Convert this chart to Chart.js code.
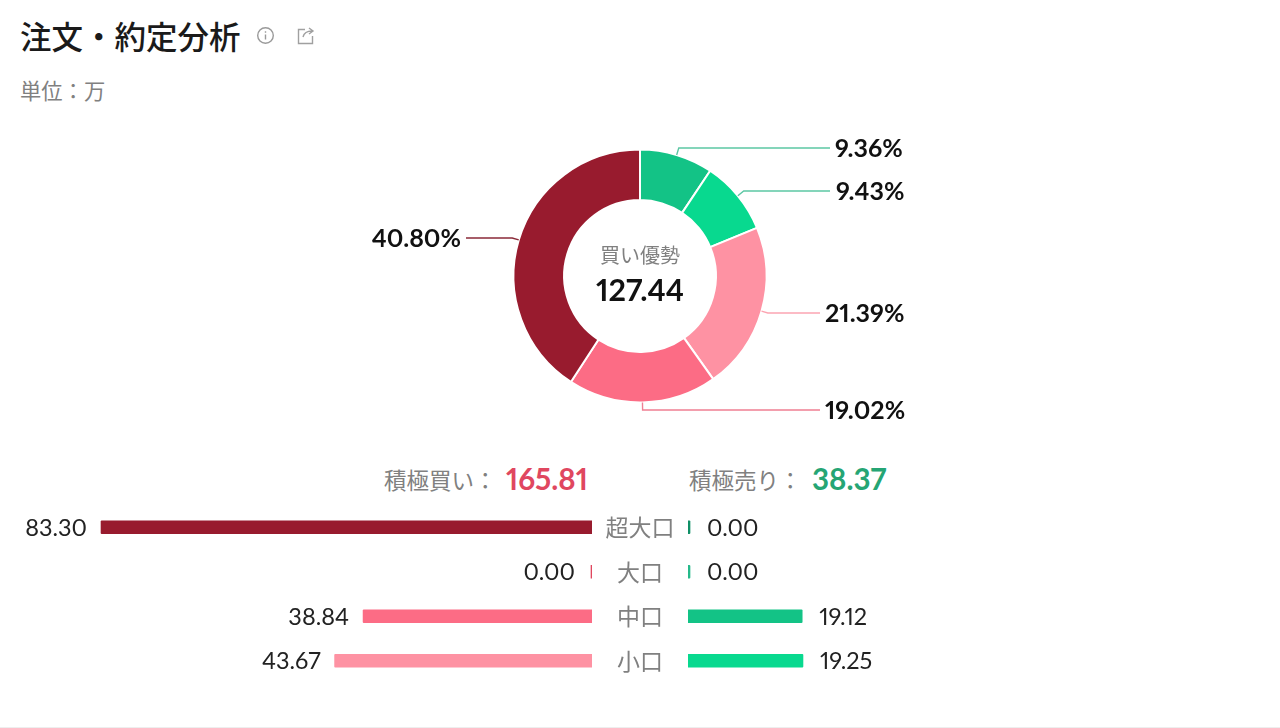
<!DOCTYPE html>
<html lang="ja"><head><meta charset="utf-8">
<script src="https://cdn.jsdelivr.net/npm/chart.js@4/dist/chart.umd.min.js"></script>
<style>
html,body{margin:0;padding:0;background:#fff;width:1280px;height:728px;overflow:hidden}
body{font-family:Lato,"Noto Sans CJK JP",sans-serif;position:relative}
.t{position:absolute;white-space:nowrap;line-height:1}
.n{position:absolute;white-space:nowrap;line-height:34px;height:34px;font-variant-numeric:proportional-nums;margin-top:-17px}
canvas{position:absolute}
.box{position:absolute}
#rule{position:absolute;left:0;right:0;top:727px;height:1px;background:#eeeeee}
</style></head><body>
<div class="t" id="title" style="left:20px;top:10px;line-height:50px;font-family:'Noto Sans CJK JP';font-weight:500;font-size:31.5px;color:#1a1a1a">注文・約定分析</div>
<svg class="box" style="left:256px;top:26px" width="19" height="19" viewBox="0 0 19 19" fill="none" stroke="#9a9a9a" stroke-width="1.4"><circle cx="9.5" cy="9.5" r="7.8"/><path d="M9.5 8.5v5M9.5 5.2v1.6"/></svg>
<svg class="box" style="left:296px;top:26px" width="20" height="19" viewBox="0 0 20 19" fill="none" stroke="#a0a0a0" stroke-width="1.4"><path d="M9 3.5H2.5v14h14V10"/><path d="M7 11c1-4 4-6 9-6M13 2l4 3-4 3"/></svg>
<div class="t" id="unit" style="left:20px;top:73px;line-height:34px;font-family:'Noto Sans CJK JP';font-size:21.3px;color:#808080">単位：万</div>

<div class="box" id="donutBox" style="left:340px;top:130px;width:600px;height:292px"><canvas id="donut"></canvas></div>

<div class="t" style="left:384px;top:462px;line-height:34px;font-family:'Noto Sans CJK JP';font-size:22.5px;color:#808080">積極買い：</div>
<div class="t" id="buyTotal" style="left:506px;top:462px;line-height:34px;font-family:Lato;font-weight:700;font-size:29.5px;font-variant-numeric:proportional-nums;color:#e0475f"></div>
<div class="t" style="left:689px;top:462px;line-height:34px;font-family:'Noto Sans CJK JP';font-size:22.5px;color:#808080">積極売り：</div>
<div class="t" id="sellTotal" style="left:812px;top:462px;line-height:34px;font-family:Lato;font-weight:700;font-size:29.5px;font-variant-numeric:proportional-nums;color:#25a574"></div>

<div class="box" id="buyBox" style="left:0;top:505px;width:592px;height:178px"><canvas id="buyBars"></canvas></div>
<div class="box" id="sellBox" style="left:592px;top:505px;width:400px;height:178px"><canvas id="sellBars"></canvas></div>
<div id="rule"></div>
<script>
const centerTitle = "買い優勢";
const centerValue = 127.44;
const totalBuy = 165.81;
const totalSell = 38.37;
const sharePercents = [9.36, 9.43, 21.39, 19.02, 40.80];
const shareColors = ["#13c386", "#08d98f", "#fe92a3", "#fc6c85", "#981b2e"];
const leaderColors = ["#5cc7a4", "#5cc7a4", "#fca5b2", "#f07f93", "#8a2a38"];
const categories = ["超大口", "大口", "中口", "小口"];
const buyValues = [83.30, 0.00, 38.84, 43.67];
const sellValues = [0.00, 0.00, 19.12, 19.25];
const buyColors = ["#981b2e", "#e0475f", "#fc6c85", "#fe92a3"];
const sellColors = ["#0f8f66", "#25b98a", "#13c386", "#08d98f"];

document.getElementById('buyTotal').textContent = totalBuy.toFixed(2);
document.getElementById('sellTotal').textContent = totalSell.toFixed(2);

Chart.defaults.animation = false;
Chart.defaults.responsive = true;
Chart.defaults.maintainAspectRatio = false;
Chart.defaults.devicePixelRatio = 1;

function label(box, key, text, x, y, align, css){
  let el = document.getElementById(key);
  if(!el){ el = document.createElement('div'); el.id = key; el.className = 'n'; box.appendChild(el); }
  el.textContent = text;
  el.style.cssText = css;
  el.style.top = y + 'px';
  if(align === 'right'){ el.style.right = (box.clientWidth - x) + 'px'; }
  else if(align === 'center'){ el.style.left = x + 'px'; el.style.transform = 'translateX(-50%)'; }
  else { el.style.left = x + 'px'; }
}

const leaderLayout = [
  {elbowY:-128, endX:190, textX:195, align:'left'},
  {elbowY:-85,  endX:190, textX:196, align:'left'},
  {elbowY:37,   endX:180, textX:185, align:'left'},
  {elbowY:134,  endX:180, textX:185, align:'left'},
  {elbowY:-38,  endX:-174,textX:-179,align:'right'}
];

const donutPlugin = {
  id:'donutLabels',
  afterDatasetsDraw(chart){
    const {ctx} = chart;
    const box = chart.canvas.parentNode;
    const arcs = chart.getDatasetMeta(0).data;
    const cx = arcs[0].x, cy = arcs[0].y;
    ctx.save();
    arcs.forEach((a,i)=>{
      const mid = (a.startAngle + a.endAngle)/2;
      const r = a.outerRadius;
      const px = cx + Math.cos(mid)*r, py = cy + Math.sin(mid)*r;
      const L = leaderLayout[i];
      const ey = cy + L.elbowY;
      const ex = px + Math.cos(mid)*Math.abs(ey-py)*(Math.abs(Math.sin(mid))>0.01?1/Math.abs(Math.sin(mid)):1);
      ctx.beginPath();
      ctx.strokeStyle = leaderColors[i];
      ctx.lineWidth = 1.4;
      ctx.moveTo(px,py); ctx.lineTo(ex,ey); ctx.lineTo(cx+L.endX,ey);
      ctx.stroke();
      label(box,'share'+i,sharePercents[i].toFixed(2)+'%',cx+L.textX,ey-1,L.align,"font-family:Lato;font-weight:700;font-size:25px;color:#111");
    });
    ctx.restore();
    label(box,'centerTitle',centerTitle,cx,cy-21,'center',"font-family:'Noto Sans CJK JP';font-size:20px;color:#808080");
    label(box,'centerValue',centerValue.toFixed(2),cx,cy+13,'center',"font-family:Lato;font-weight:700;font-size:30.5px;color:#111");
  }
};

new Chart(document.getElementById('donut'),{
  type:'doughnut',
  data:{labels:sharePercents.map(v=>v+'%'),datasets:[{data:sharePercents,backgroundColor:shareColors,borderColor:'#fff',borderWidth:2}]},
  options:{radius:126.5,cutout:'60%',rotation:0,events:[],plugins:{legend:{display:false},tooltip:{enabled:false}}},
  plugins:[donutPlugin]
});

function valueLabels(prefix,values,side,gap,withCategory){
  return {
    id:'valueLabels',
    afterDatasetsDraw(chart){
      const box = chart.canvas.parentNode;
      chart.getDatasetMeta(0).data.forEach((bar,i)=>{
        const end = values[i]===0 ? bar.base + side*2 : bar.x;
        label(box,prefix+i,values[i].toFixed(2),end+side*gap,bar.y-0.5,side<0?'right':'left',"font-family:Lato;font-size:23.5px;color:#222");
        if(withCategory){
          label(box,'cat'+i,chart.data.labels[i],bar.base-48,bar.y-1,'center',"font-family:'Noto Sans CJK JP';font-size:23px;color:#808080");
        }
      });
    }
  };
}
const noGrid = {display:false};
new Chart(document.getElementById('buyBars'),{
  type:'bar',
  data:{labels:categories,datasets:[{data:buyValues,backgroundColor:buyColors,barThickness:13,minBarLength:2,borderRadius:1}]},
  options:{indexAxis:'y',events:[],
    scales:{x:{reverse:true,min:0,max:100.44,display:false,grid:noGrid},y:{display:false,grid:noGrid}},
    plugins:{legend:{display:false},tooltip:{enabled:false}}},
  plugins:[valueLabels('buy',buyValues,-1,14,false)]
});
new Chart(document.getElementById('sellBars'),{
  type:'bar',
  data:{labels:categories,datasets:[{data:sellValues,backgroundColor:sellColors,barThickness:13,minBarLength:2,borderRadius:1}]},
  options:{indexAxis:'y',events:[],layout:{padding:{left:96}},
    scales:{
      x:{min:0,max:50.9,display:false,grid:noGrid},
      y:{display:false,grid:noGrid}
    },
    plugins:{legend:{display:false},tooltip:{enabled:false}}},
  plugins:[valueLabels('sell',sellValues,1,17,true)]
});
</script>
</body></html>
